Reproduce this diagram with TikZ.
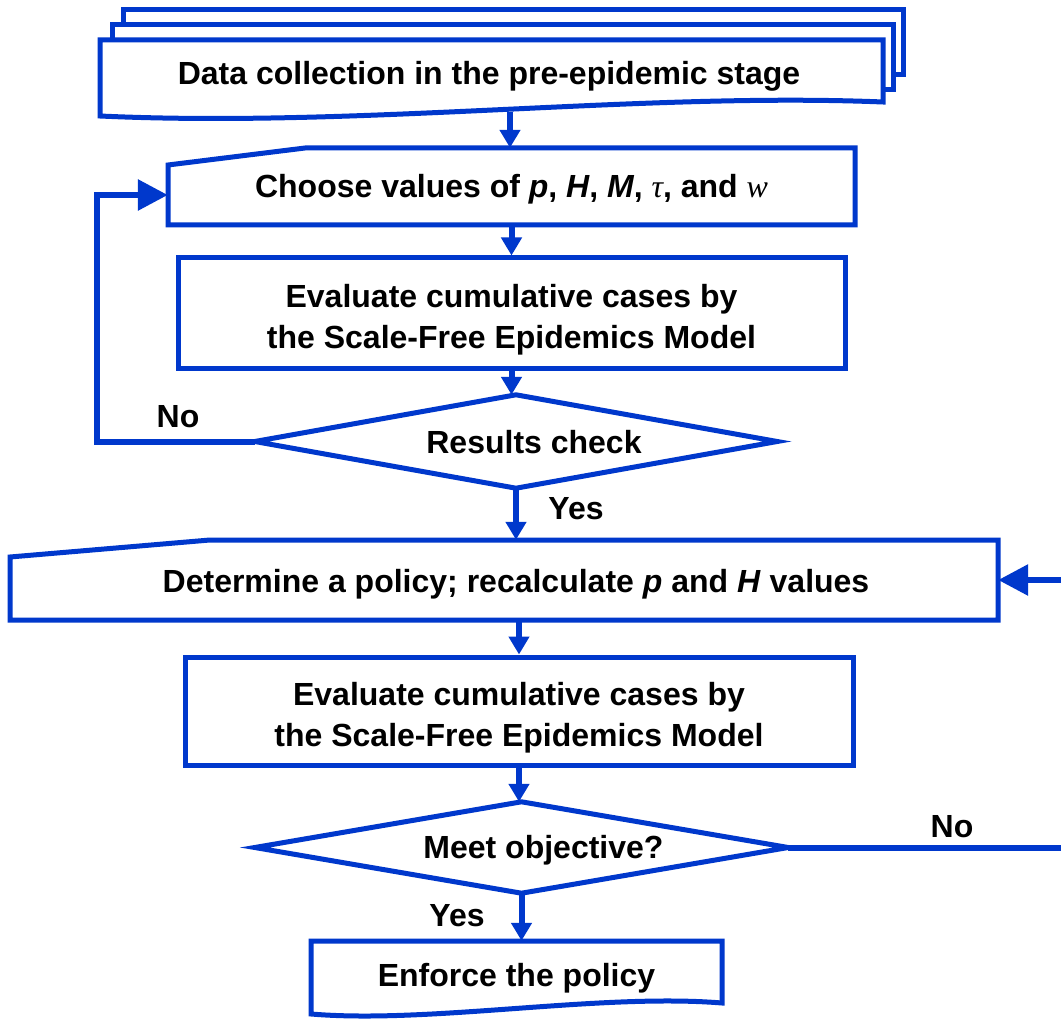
\documentclass[tikz,border=0pt]{standalone}
\usepackage{fontspec}
\setmainfont{Liberation Sans}
\newfontfamily\tmsfont{Liberation Serif}
\usetikzlibrary{arrows.meta,calc}
\definecolor{fblue}{RGB}{0,56,204}
\newcommand\lowr[1]{\rule{0pt}{#1}}
\begin{document}
\begin{tikzpicture}[x=1pt,y=-1pt,
  outline/.style={draw=fblue,line width=5pt,line join=miter,fill=white},
  outlineonly/.style={draw=fblue,line width=5pt,line join=miter},
  txt/.style={font=\fontsize{32}{41}\selectfont\bfseries,align=center,inner sep=0pt},
  frame/.style={txt,draw=none,rectangle},
  box/.style={txt,draw=fblue,line width=5pt,fill=white,rectangle},
  arr/.style={draw=fblue,line width=6pt,line join=miter,-{Triangle[length=18pt,width=20pt]}},
  bigarr/.style={draw=fblue,line width=6pt,line join=miter,-{Triangle[length=30pt,width=30pt]}},
  lbl/.style={font=\fontsize{32}{41}\selectfont\bfseries,inner sep=0pt}
]
\fill[white] (0,0) rectangle (1061,1019);
\useasboundingbox (0,0) rectangle (1061,1019);
\begin{scope}
\clip (0,0) rectangle (1061,1019);
% stacked documents
\draw[outline] (123,10) rectangle (903,75);
\draw[outline] (112,25) rectangle (893,90);
\draw[outline] (100,40) -- (883,40) -- (883,102) .. controls (640,92) and (360,128) .. (100,116) -- cycle;
\node[frame, minimum width=783pt, minimum height=70pt] (data) at (489,73) {\lowr{29.5pt}Data collection in the pre-epidemic stage};
\coordinate (dataout) at (510,112);
% choose values (manual input)
\draw[outline] (168,165) -- (305,148) -- (855,148) -- (855,225) -- (168,225) -- cycle;
\node[frame, minimum width=687pt, minimum height=77pt] (choose) at (511.5,186.5) {\lowr{29.5pt}Choose values of \textit{p}, \textit{H}, \textit{M}, {\tmsfont\mdseries\itshape τ}, and {\tmsfont\mdseries\itshape w}};
% evaluate 1
\node[box, minimum width=667pt, minimum height=110pt] (eval1) at (511.5,313) {\lowr{37.5pt}Evaluate cumulative cases by\\the Scale-Free Epidemics Model};
% results check
\node[frame, minimum width=522pt, minimum height=93pt] (check) at (516,441.5) {\hspace*{36pt}\lowr{25pt}Results check};
\draw[outlineonly] (check.north) -- (check.east) -- (check.south) -- (check.west) -- cycle;
% policy (manual input)
\draw[outline] (10,557) -- (210,540) -- (998,540) -- (998,620) -- (10,620) -- cycle;
\node[frame, minimum width=988pt, minimum height=80pt] (policy) at (504,580) {\hspace*{24pt}\lowr{31.5pt}Determine a policy; recalculate \textit{p} and \textit{H} values};
% evaluate 2
\node[box, minimum width=668pt, minimum height=108pt] (eval2) at (519,711) {\lowr{37.5pt}Evaluate cumulative cases by\\the Scale-Free Epidemics Model};
% objective
\node[frame, minimum width=533pt, minimum height=91pt] (obj) at (521.5,847.5) {\hspace*{44pt}\lowr{29.5pt}Meet objective?};
\draw[outlineonly] (obj.north) -- (obj.east) -- (obj.south) -- (obj.west) -- cycle;
% enforce (document)
\draw[outline] (311,941) -- (722,941) -- (722,1003) .. controls (600,993) and (430,1024) .. (311,1014) -- cycle;
\node[frame, minimum width=411pt, minimum height=64pt] (enforce) at (516.5,973) {\lowr{33.5pt}Enforce the policy};
% labels
\node[lbl] (no1) at (178,417) {No};
\node[lbl] (yes1) at (576,509) {Yes};
\node[lbl] (no2) at (952,827) {No};
\node[lbl] (yes2) at (457,916) {Yes};
% connectors
\draw[arr] (dataout) -- (dataout |- choose.north);
\draw[arr] (eval1.north |- choose.south) -- (eval1.north);
\draw[arr] (eval1.south) -- (eval1.south |- check.north);
\draw[bigarr] (check.west) -- ++(-158,0) |- ([yshift=-8.5pt]choose.west);
\draw[arr] (check.south) -- (check.south |- policy.north);
\draw[arr] (eval2.north |- policy.south) -- (eval2.north);
\draw[arr] (eval2.south) -- (eval2.south |- obj.north);
\draw[arr] (obj.south) -- (obj.south |- enforce.north);
\draw[bigarr] (obj.east) -- ++(300,0) |- (policy.east);
\end{scope}
\end{tikzpicture}
\end{document}
